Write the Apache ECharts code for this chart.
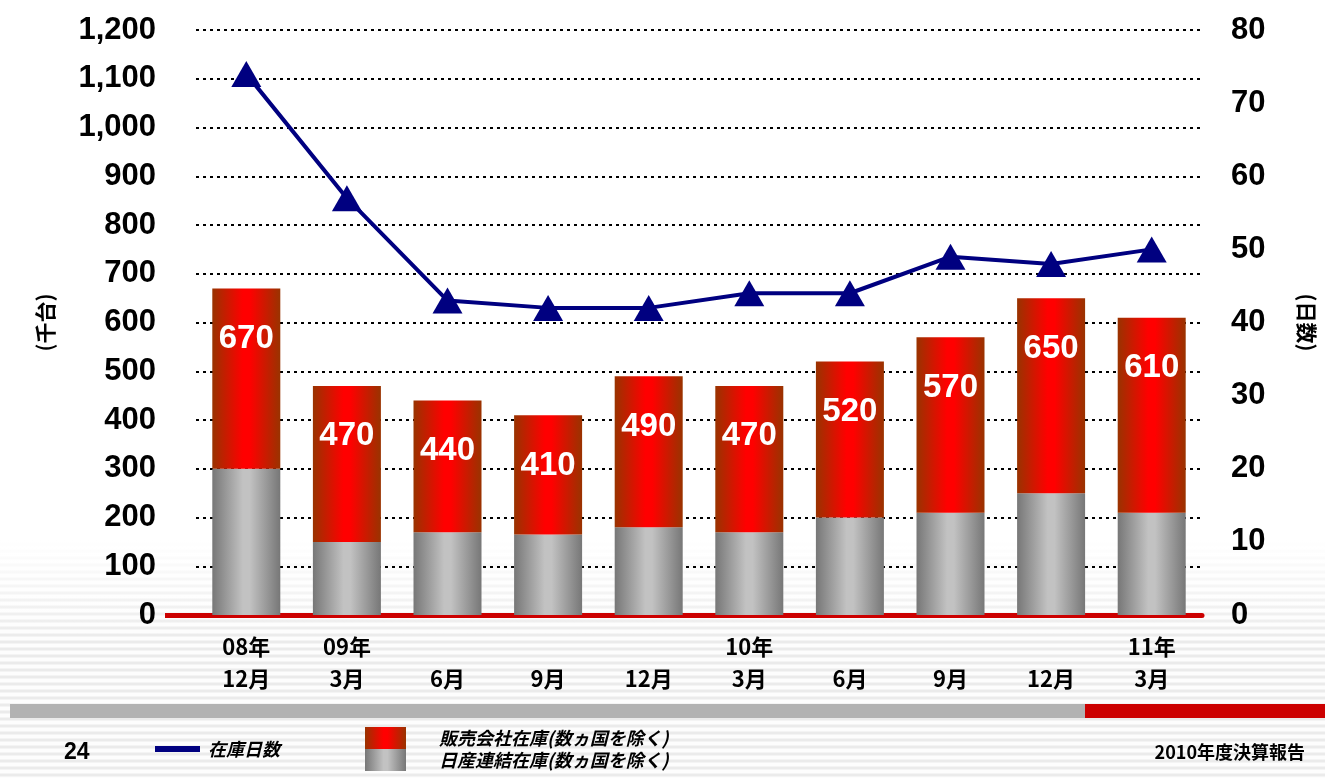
<!DOCTYPE html>
<html>
<head>
<meta charset="utf-8">
<script src="https://cdn.jsdelivr.net/npm/echarts@6/dist/echarts.min.js"></script>
<style>
  html, body { margin: 0; padding: 0; }
  #chart {
    width: 1325px; height: 778px;
    background:
      linear-gradient(#fff 0px, #fff 540px, rgba(255,255,255,0) 640px),
      repeating-linear-gradient(#fdfdfd 0px, #fdfdfd 3px, #ebebeb 4px, #ebebeb 6px, #fdfdfd 7px);
  }
</style>
</head>
<body>
<div id="chart"></div>
<script>
// データ
const years = ['08年', '09年', '', '', '', '10年', '', '', '', '11年'];
const months = ['12月', '3月', '6月', '9月', '12月', '3月', '6月', '9月', '12月', '3月'];
const totalStock = [670, 470, 440, 410, 490, 470, 520, 570, 650, 610];   // 合計(ラベル)
const nissanStock = [300, 150, 170, 165, 180, 170, 200, 210, 250, 210];  // 日産連結在庫
const stockDays = [74, 57, 43, 42, 42, 44, 44, 49, 48, 50];              // 在庫日数

const categories = years.map((y, i) => y + '\n' + months[i]);
const dealerStock = totalStock.map((t, i) => t - nissanStock[i]);

const fontNum = "'Liberation Sans', 'Noto Sans CJK JP', sans-serif";
const fontJp = "'Noto Sans CJK JP', sans-serif";

const redGrad = new echarts.graphic.LinearGradient(0, 0, 1, 0, [
  { offset: 0, color: '#993300' },
  { offset: 0.45, color: '#ff0000' },
  { offset: 0.55, color: '#ff0000' },
  { offset: 1, color: '#993300' },
]);
const grayGrad = new echarts.graphic.LinearGradient(0, 0, 1, 0, [
  { offset: 0, color: '#777777' },
  { offset: 0.45, color: '#c2c2c2' },
  { offset: 0.55, color: '#c2c2c2' },
  { offset: 1, color: '#777777' },
]);

const legendText = { fontFamily: fontJp, fontSize: 18, fontWeight: 'bold', fontStyle: 'italic', color: '#000' };

const chart = echarts.init(document.getElementById('chart'));

chart.setOption({
  backgroundColor: 'transparent',
  animation: false,
  grid: { left: 196, right: 117, top: 30, bottom: 163 },
  legend: [
    {
      data: ['在庫日数'],
      left: 150, top: 735,
      icon: 'rect', itemWidth: 45, itemHeight: 6,
      textStyle: Object.assign({ padding: [0, 0, 0, 3] }, legendText),
    },
    {
      data: ['販売会社在庫(数ヵ国を除く)'],
      left: 365, top: 727, padding: 0,
      icon: 'rect', itemWidth: 41, itemHeight: 22,
      textStyle: Object.assign({ padding: [0, 0, 0, 28] }, legendText),
    },
    {
      data: ['日産連結在庫(数ヵ国を除く)'],
      left: 365, top: 749, padding: 0,
      icon: 'rect', itemWidth: 41, itemHeight: 22,
      textStyle: Object.assign({ padding: [0, 0, 0, 28] }, legendText),
    },
  ],
  xAxis: {
    type: 'category',
    data: categories,
    axisLine: { lineStyle: { color: '#cc0000', width: 5 } },
    axisTick: { show: false },
    axisLabel: {
      margin: 16,
      fontFamily: fontJp, fontSize: 22, fontWeight: 'bold', color: '#000', lineHeight: 32,
    },
  },
  yAxis: [
    {
      type: 'value', min: 0, max: 1200, interval: 100,
      name: '(千台)', nameLocation: 'middle', nameGap: 140, nameRotate: 90,
      nameTextStyle: { fontFamily: fontJp, fontSize: 21, fontWeight: 'bold', color: '#000' },
      axisLine: { show: false }, axisTick: { show: false },
      axisLabel: {
        margin: 40, fontFamily: fontNum, fontSize: 31, fontWeight: 'bold', color: '#000',
        formatter: v => v.toLocaleString('en-US'),
      },
      splitLine: { lineStyle: { color: '#000', width: 2, type: [3, 4] } },
    },
    {
      type: 'value', min: 0, max: 80, interval: 10,
      name: '(日数)', nameLocation: 'middle', nameGap: 94, nameRotate: -90,
      nameTextStyle: { fontFamily: fontJp, fontSize: 21, fontWeight: 'bold', color: '#000' },
      axisLine: { show: false }, axisTick: { show: false },
      axisLabel: { margin: 29, fontFamily: fontNum, fontSize: 31, fontWeight: 'bold', color: '#000' },
      splitLine: { show: false },
    },
  ],
  series: [
    {
      name: '日産連結在庫(数ヵ国を除く)',
      type: 'bar', stack: 'stock', barWidth: 68,
      itemStyle: { color: grayGrad },
      data: nissanStock,
    },
    {
      name: '販売会社在庫(数ヵ国を除く)',
      type: 'bar', stack: 'stock', barWidth: 68,
      itemStyle: { color: redGrad },
      label: {
        show: true, position: 'insideTop', distance: 34,
        fontFamily: fontNum, fontSize: 33, fontWeight: 'bold', color: '#fff',
        formatter: p => totalStock[p.dataIndex],
      },
      data: dealerStock,
    },
    {
      name: '在庫日数',
      type: 'line', yAxisIndex: 1, z: 5,
      symbol: 'triangle', symbolSize: [30, 26],
      lineStyle: { color: '#000080', width: 4 },
      itemStyle: { color: '#000080' },
      data: stockDays,
    },
  ],
  graphic: [
    // 軸線の左側延長
    { type: 'rect', shape: { x: 165, y: 613, width: 32, height: 5 }, style: { fill: '#cc0000' } },
    // 下部の帯
    { type: 'rect', shape: { x: 10, y: 704, width: 1075, height: 14 }, style: { fill: '#b2b2b2' } },
    { type: 'rect', shape: { x: 1085, y: 704, width: 240, height: 14 }, style: { fill: '#cc0000' } },
    {
      type: 'text', left: 64, top: 741,
      style: { text: '24', font: "bold 23px 'Liberation Sans', sans-serif", fill: '#000' },
    },
    {
      type: 'text', right: 20, top: 743,
      style: { text: '2010年度決算報告', font: "bold 18px 'Noto Sans CJK JP', sans-serif", fill: '#000' },
    },
  ],
});
</script>
</body>
</html>
